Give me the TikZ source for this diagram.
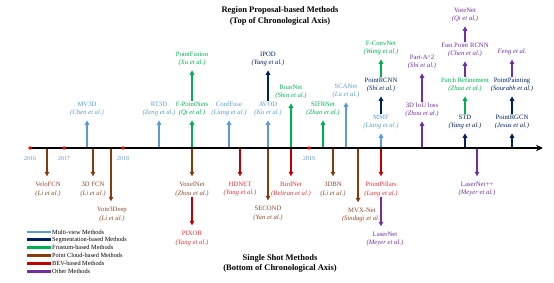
\documentclass[tikz,border=0pt]{standalone}
\usepackage{fontspec}
\setmainfont{Liberation Serif}
\usetikzlibrary{arrows.meta}
\definecolor{mvc}{HTML}{5B9BD5}
\definecolor{segc}{HTML}{002060}
\definecolor{fruc}{HTML}{00B050}
\definecolor{pcc}{HTML}{843C0C}
\definecolor{pct}{HTML}{8B4A2B}
\definecolor{bevc}{HTML}{C00000}
\definecolor{bevt}{HTML}{E03535}
\definecolor{othc}{HTML}{7030A0}
\newcommand{\mth}[2]{#1\\\textit{(#2)}}
\begin{document}
\begin{tikzpicture}[x=1pt,y=-1pt,
  ml/.style={-{Triangle[length=4.5pt,width=4.5pt]}, line width=1.1pt},
  up/.style={ml, shorten >=3.5pt},
  dn/.style={ml, shorten >=5pt},
  lbl/.style={align=center, font=\fontsize{6.7}{8.6}\selectfont, inner sep=0.5pt},
  ttl/.style={align=center, font=\fontsize{8.5}{10.5}\selectfont\bfseries, inner sep=0pt},
  yr/.style={font=\fontsize{6}{6}\selectfont, text=mvc, inner sep=0pt},
  dot/.style={circle, fill=red, inner sep=0pt, minimum size=3.6pt},
  leg/.style={line width=2.2pt},
  legt/.style={font=\fontsize{6.3}{7}\selectfont, anchor=west, inner sep=0pt}]
\useasboundingbox (0,0) rectangle (554,283);

% titles
\node[ttl] (t1) at (280,16) {Region Proposal-based Methods\\(Top of Chronological Axis)};
\node[ttl] (t2) at (280,263.5) {Single Shot Methods\\(Bottom of Chronological Axis)};

% axis coordinates
\coordinate (a-mv3d) at (87,148);
\coordinate (a-rt3d) at (159,148);
\coordinate (a-fpn) at (192,148);
\coordinate (a-conf) at (229,148);
\coordinate (a-avod) at (268,148);
\coordinate (a-roar) at (291,148);
\coordinate (a-sifr) at (323,148);
\coordinate (a-scan) at (346,148);
\coordinate (a-mmf) at (381,148);
\coordinate (a-iou) at (422,148);
\coordinate (a-std) at (465,148);
\coordinate (a-rgcn) at (512,148);
\coordinate (a-velo) at (47,148);
\coordinate (a-fcn) at (93,148);
\coordinate (a-vtd) at (111,148);
\coordinate (a-hdnet) at (240,148);
\coordinate (a-dbn) at (333,148);
\coordinate (a-mvx) at (358,148);
\coordinate (a-lpp) at (477,148);

% ---- up labels ----
\node[lbl, text=mvc, anchor=south] (mv3d) at (87,116.8) {\mth{MV3D}{Chen et al.}};
\node[lbl, text=mvc, anchor=south] (rt3d) at (159,116.8) {\mth{RT3D}{Zeng et al.}};
\node[lbl, text=fruc, anchor=south] (fpn) at (192,116.8) {\mth{F-PointNets}{Qi et al.}};
\node[lbl, text=mvc, anchor=south] (conf) at (229,116.8) {\mth{ConfFuse}{Liang et al.}};
\node[lbl, text=mvc, anchor=south] (avod) at (268,116.8) {\mth{AVOD}{Ku et al.}};
\node[lbl, text=fruc, anchor=south] (roar) at (291,99.8) {\mth{RoarNet}{Shin et al.}};
\node[lbl, text=fruc, anchor=south] (sifr) at (323,116.8) {\mth{SIFRNet}{Zhao et al.}};
\node[lbl, text=mvc, anchor=south] (scan) at (346,98.8) {\mth{SCANet}{Lu et al.}};
\node[lbl, text=mvc, anchor=south] (mmf) at (381,129.8) {\mth{MMF}{Liang et al.}};
\node[lbl, text=othc, anchor=south] (iou) at (422,117.8) {\mth{3D IoU loss}{Zhou et al.}};
\node[lbl, text=segc, anchor=south] (std) at (465,129.8) {\mth{STD}{Yang et al.}};
\node[lbl, text=segc, anchor=south] (rgcn) at (512,129.8) {\mth{PointRGCN}{Jesus et al.}};

\node[lbl, text=fruc, anchor=south] (pfus) at (192,66.8) {\mth{PointFusion}{Xu et al.}};
\node[lbl, text=segc, anchor=south] (ipod) at (268,66.8) {\mth{IPOD}{Yang et al.}};
\node[lbl, text=segc, anchor=south] (prcnn) at (381,92.8) {\mth{PointRCNN}{Shi et al.}};
\node[lbl, text=fruc, anchor=south] (fconv) at (381,55.8) {\mth{F-ConvNet}{Wang et al.}};
\node[lbl, text=othc, anchor=south] (parta) at (422,69.8) {\mth{Part-A\^{}2}{Shi et al.}};
\node[lbl, text=fruc, anchor=south] (patch) at (465,92.8) {\mth{Patch Refinement}{Zhao et al.}};
\node[lbl, text=othc, anchor=south] (fprc) at (465,57.8) {\mth{Fast Point RCNN}{Chen et al.}};
\node[lbl, text=othc, anchor=south] (vote) at (465,22.8) {\mth{VoteNet}{Qi et al.}};
\node[lbl, text=segc, anchor=south] (ppaint) at (512,92.8) {\mth{PointPainting}{Sourabh et al.}};
\node[lbl, text=othc, anchor=south] (feng) at (512,56) {\textit{Feng et al.}};

% ---- down labels ----
\node[lbl, text=pct, anchor=north] (velo) at (48,181.3) {\mth{VeloFCN}{Li et al.}};
\node[lbl, text=pct, anchor=north] (fcn) at (93,181.3) {\mth{3D FCN}{Li et al.}};
\node[lbl, text=pct, anchor=north] (vtd) at (112,206.3) {\mth{Vote3Deep}{Li et al.}};
\node[lbl, text=pct, anchor=north] (voxel) at (192,181.3) {\mth{VoxelNet}{Zhou et al.}};
\node[lbl, text=bevt, anchor=north] (pixor) at (192,230.3) {\mth{PIXOR}{Yang et al.}};
\node[lbl, text=bevt, anchor=north] (hdnet) at (240,181.3) {\mth{HDNET}{Yang et al.}};
\node[lbl, text=pct, anchor=north] (second) at (268,205.3) {\mth{SECOND}{Yan et al.}};
\node[lbl, text=bevt, anchor=north] (bird) at (291,181.3) {\mth{BirdNet}{Beltran et al.}};
\node[lbl, text=pct, anchor=north] (dbn) at (333,181.3) {\mth{3DBN}{Li et al.}};
\node[lbl, text=pct, anchor=north] (mvx) at (362,207.3) {\mth{MVX-Net}{Sindagi et al.}};
\node[lbl, text=bevt, anchor=north] (pp) at (381,181.3) {\mth{PointPillars}{Lang et al.}};
\node[lbl, text=othc, anchor=north] (laser) at (385,231.3) {\mth{LaserNet}{Meyer et al.}};
\node[lbl, text=othc, anchor=north] (lpp) at (477,181.3) {\mth{LaserNet++}{Meyer et al.}};

% ---- up arrows from axis ----
\draw[up, mvc] (a-mv3d) -- (mv3d.south);
\draw[up, mvc] (a-rt3d) -- (rt3d.south);
\draw[up, fruc] (a-fpn) -- (fpn.south);
\draw[up, mvc] (a-conf) -- (conf.south);
\draw[up, mvc] (a-avod) -- (avod.south);
\draw[up, fruc] (a-roar) -- (roar.south);
\draw[up, fruc] (a-sifr) -- (sifr.south);
\draw[up, mvc] (a-scan) -- (scan.south);
\draw[up, mvc] (a-mmf) -- (mmf.south);
\draw[up, othc] (a-iou) -- (iou.south);
\draw[up, segc] (a-std) -- (std.south);
\draw[up, segc] (a-rgcn) -- (rgcn.south);
% chained up
\draw[up, fruc] (fpn.north) -- (pfus.south);
\draw[up, segc] (avod.north) -- (ipod.south);
\draw[up, segc] (mmf.north) -- (prcnn.south);
\draw[up, fruc] (prcnn.north) -- (fconv.south);
\draw[up, othc] (iou.north) -- (parta.south);
\draw[up, fruc] (std.north) -- (patch.south);
\draw[up, othc] (patch.north) -- (fprc.south);
\draw[up, othc] (fprc.north) -- (vote.south);
\draw[up, segc] (rgcn.north) -- (ppaint.south);
\draw[up, othc] (ppaint.north) -- (feng.south);

% ---- down arrows ----
\draw[dn, pcc] (a-velo) -- (a-velo |- velo.north);
\draw[dn, pcc] (a-fcn) -- (fcn.north);
\draw[dn, pcc] (a-vtd) -- (a-vtd |- vtd.north);
\draw[dn, pcc] (a-fpn) -- (voxel.north);
\draw[dn, bevc] (voxel.south) -- (pixor.north);
\draw[dn, bevc] (a-hdnet) -- (hdnet.north);
\draw[dn, pcc] (a-avod) -- (second.north);
\draw[dn, bevc] (a-roar) -- (bird.north);
\draw[dn, pcc] (a-dbn) -- (dbn.north);
\draw[dn, pcc] (a-mvx) -- (a-mvx |- mvx.north);
\draw[dn, bevc] (a-mmf) -- (pp.north);
\draw[dn, othc] (pp.south) -- (pp.south |- laser.north);
\draw[dn, othc] (a-lpp) -- (lpp.north);

% ---- axis ----
\coordinate (ax0) at (29,148);
\coordinate (ax1) at (543,148);
\draw[line width=1.4pt, -{Stealth[length=7pt,width=6.5pt]}] (ax0) -- (ax1);
\node[dot] (d16) at (30,148) {};
\node[dot] (d17) at (64,148) {};
\node[dot] (d18) at (123,148) {};
\node[dot] (d19) at (309,148) {};
\node[yr] (l16) at (30,158.5) {2016};
\node[yr] (l17) at (64,158.5) {2017};
\node[yr] (l18) at (123,158.5) {2018};
\node[yr] (l19) at (309,158.5) {2019};

% ---- legend ----
\coordinate (g1a) at (27,232);   \coordinate (g1b) at (51,232);
\coordinate (g2a) at (27,239.5); \coordinate (g2b) at (51,239.5);
\coordinate (g3a) at (27,247.5); \coordinate (g3b) at (51,247.5);
\coordinate (g4a) at (27,255.5); \coordinate (g4b) at (51,255.5);
\coordinate (g5a) at (27,263.5); \coordinate (g5b) at (51,263.5);
\coordinate (g6a) at (27,271.5); \coordinate (g6b) at (51,271.5);
\draw[leg, mvc] (g1a) -- (g1b);
\draw[leg, segc] (g2a) -- (g2b);
\draw[leg, fruc] (g3a) -- (g3b);
\draw[leg, pcc] (g4a) -- (g4b);
\draw[leg, bevc] (g5a) -- (g5b);
\draw[leg, othc] (g6a) -- (g6b);
\node[legt] (g1t) at (52,232) {Multi-view Methods};
\node[legt] (g2t) at (52,239.5) {Segmentation-based Methods};
\node[legt] (g3t) at (52,247.5) {Frustum-based Methods};
\node[legt] (g4t) at (52,255.5) {Point Cloud-based Methods};
\node[legt] (g5t) at (52,263.5) {BEV-based Methods};
\node[legt] (g6t) at (52,271.5) {Other Methods};
\end{tikzpicture}
\end{document}
